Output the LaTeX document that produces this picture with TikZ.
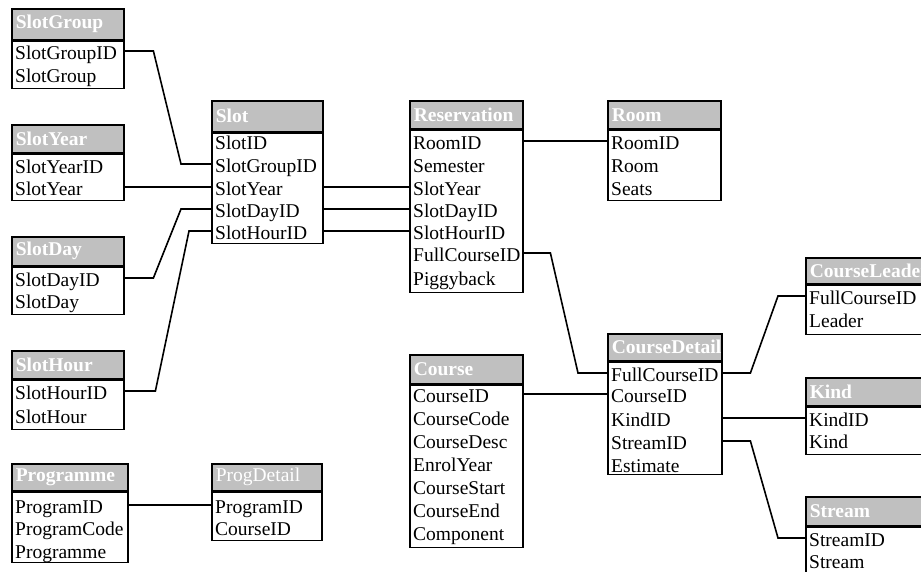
\documentclass[tikz,border=0pt]{standalone}
\usepackage{fontspec}
\setmainfont{Liberation Serif}
\usetikzlibrary{positioning, calc}
\definecolor{hdrgray}{RGB}{192,192,192}
\tikzset{
    tbl/.style={draw, line width=1.6pt},
    hdr/.style={tbl, fill=hdrgray, text=white, anchor=north west, inner xsep=4pt, inner ysep=0pt,
        align=left, text width=#1, font=\fontsize{19.5}{22}\selectfont\bfseries},
    tblbody/.style={tbl, minimum width=#1, inner sep=0pt},
    fld/.style={anchor=west, inner xsep=4pt, inner ysep=0pt, align=left, text width=#1,
        text height=18pt, text depth=1pt, font=\fontsize{19.5}{22}\selectfont},
    link/.style={line width=1.6pt},
}

\begin{document}
\begin{tikzpicture}[x=1pt, y=-1pt]
    \useasboundingbox (0,0) rectangle (921,572);

    % slot tables on the left
    \node[hdr=104pt, minimum height=31pt] (slotgroup) at (11,8) {SlotGroup};
    \node[tblbody=112pt, minimum height=47pt, below=0pt of slotgroup] (slotgroup-b) {};
    \node[fld=104pt] (sg-id) at (11,51) {SlotGroupID};
    \node[fld=104pt] (sg-name) at (11,74) {SlotGroup};

    \node[hdr=104pt, minimum height=28pt] (slotyear) at (11,124) {SlotYear};
    \node[tblbody=112pt, minimum height=46pt, below=0pt of slotyear] (slotyear-b) {};
    \node[fld=104pt] (sy-id) at (11,165) {SlotYearID};
    \node[fld=104pt] (sy-year) at (11,187) {SlotYear};

    \node[hdr=104pt, minimum height=29pt] (slotday) at (11,236) {SlotDay};
    \node[tblbody=112pt, minimum height=47pt, below=0pt of slotday] (slotday-b) {};
    \node[fld=104pt] (sd-id) at (11,278) {SlotDayID};
    \node[fld=104pt] (sd-day) at (11,300) {SlotDay};

    \node[hdr=104pt, minimum height=28pt] (slothour) at (11,350) {SlotHour};
    \node[tblbody=112pt, minimum height=49pt, below=0pt of slothour] (slothour-b) {};
    \node[fld=104pt] (sh-id) at (11,391) {SlotHourID};
    \node[fld=104pt] (sh-hour) at (11,415) {SlotHour};

    \node[hdr=108pt, minimum height=27pt] (programme) at (11,463) {Programme};
    \node[tblbody=116pt, minimum height=70pt, below=0pt of programme] (programme-b) {};
    \node[fld=108pt] (pg-id) at (11,505) {ProgramID};
    \node[fld=108pt] (pg-code) at (11,527) {ProgramCode};
    \node[fld=108pt] (pg-name) at (11,550) {Programme};

    \node[hdr=102pt, minimum height=27pt, font=\fontsize{19.5}{22}\selectfont] (progdetail) at (211,463) {ProgDetail};
    \node[tblbody=110pt, minimum height=48pt, below=0pt of progdetail] (progdetail-b) {};
    \node[fld=102pt] (pd-id) at (211,505) {ProgramID};
    \node[fld=102pt] (pd-course) at (211,527) {CourseID};

    % slot and reservation
    \node[hdr=103pt, minimum height=31pt] (slot) at (211,100) {Slot};
    \node[tblbody=111pt, minimum height=110pt, below=0pt of slot] (slot-b) {};
    \node[fld=103pt] (sl-id) at (211,141) {SlotID};
    \node[fld=103pt] (sl-grp) at (211,164) {SlotGroupID};
    \node[fld=103pt] (sl-year) at (211,187) {SlotYear};
    \node[fld=103pt] (sl-day) at (211,209) {SlotDayID};
    \node[fld=103pt] (sl-hour) at (211,231) {SlotHourID};

    \node[hdr=105pt, minimum height=28pt] (reservation) at (409,100) {Reservation};
    \node[tblbody=113pt, minimum height=162pt, below=0pt of reservation] (reservation-b) {};
    \node[fld=105pt] (rs-room) at (409,141) {RoomID};
    \node[fld=105pt] (rs-sem) at (409,164) {Semester};
    \node[fld=105pt] (rs-year) at (409,187) {SlotYear};
    \node[fld=105pt] (rs-day) at (409,209) {SlotDayID};
    \node[fld=105pt] (rs-hour) at (409,231) {SlotHourID};
    \node[fld=105pt] (rs-full) at (409,253) {FullCourseID};
    \node[fld=105pt] (rs-piggy) at (409,277) {Piggyback};

    \node[hdr=105pt, minimum height=28pt] (room) at (607,100) {Room};
    \node[tblbody=113pt, minimum height=70pt, below=0pt of room] (room-b) {};
    \node[fld=105pt] (rm-id) at (607,141) {RoomID};
    \node[fld=105pt] (rm-room) at (607,164) {Room};
    \node[fld=105pt] (rm-seats) at (607,187) {Seats};

    % courses
    \node[hdr=105pt, minimum height=29pt] (course) at (409,354) {Course};
    \node[tblbody=113pt, minimum height=162pt, below=0pt of course] (course-b) {};
    \node[fld=105pt] (co-id) at (409,394) {CourseID};
    \node[fld=105pt] (co-code) at (409,417) {CourseCode};
    \node[fld=105pt] (co-desc) at (409,440) {CourseDesc};
    \node[fld=105pt] (co-enrol) at (409,463) {EnrolYear};
    \node[fld=105pt] (co-start) at (409,486) {CourseStart};
    \node[fld=105pt] (co-end) at (409,509) {CourseEnd};
    \node[fld=105pt] (co-comp) at (409,532) {Component};

    \node[hdr=106pt, minimum height=27pt] (coursedetail) at (607,333) {CourseDetail};
    \node[tblbody=114pt, minimum height=112pt, below=0pt of coursedetail] (coursedetail-b) {};
    \node[fld=106pt] (cd-full) at (607,373) {FullCourseID};
    \node[fld=106pt] (cd-course) at (607,394) {CourseID};
    \node[fld=106pt] (cd-kind) at (607,418) {KindID};
    \node[fld=106pt] (cd-stream) at (607,441) {StreamID};
    \node[fld=106pt] (cd-est) at (607,464) {Estimate};

    \node[hdr=122pt, minimum height=26pt] (courseleader) at (805,257) {CourseLeader};
    \node[tblbody=130pt, minimum height=49pt, below=0pt of courseleader] (courseleader-b) {};
    \node[fld=122pt] (cl-full) at (805,296) {FullCourseID};
    \node[fld=122pt] (cl-leader) at (805,319) {Leader};

    \node[hdr=122pt, minimum height=28pt] (kind) at (805,377) {Kind};
    \node[tblbody=130pt, minimum height=47pt, below=0pt of kind] (kind-b) {};
    \node[fld=122pt] (kd-id) at (805,418) {KindID};
    \node[fld=122pt] (kd-kind) at (805,440) {Kind};

    \node[hdr=122pt, minimum height=29pt] (stream) at (805,496) {Stream};
    \node[tblbody=130pt, minimum height=46pt, below=0pt of stream] (stream-b) {};
    \node[fld=122pt] (st-id) at (805,538) {StreamID};
    \node[fld=122pt] (st-stream) at (805,560) {Stream};

    % relations
    \draw[link] (sg-id.east) -- ++(30,0) -- ([xshift=-30pt]sl-grp.west) -- (sl-grp.west);
    \draw[link] (sy-year.east) -- (sl-year.west);
    \draw[link] (sd-id.east) -- ++(30,0) -- ([xshift=-30pt]sl-day.west) -- (sl-day.west);
    \draw[link] (sh-id.east) -- ++(32,0) -- ([xshift=-22pt]sl-hour.west) -- (sl-hour.west);
    \draw[link] (sl-year.east) -- (rs-year.west);
    \draw[link] (sl-day.east) -- (rs-day.west);
    \draw[link] (sl-hour.east) -- (rs-hour.west);
    \draw[link] (rs-room.east) -- (rm-id.west);
    \draw[link] (rs-full.east) -- ++(28,0) -- ([xshift=-29pt]cd-full.west) -- (cd-full.west);
    \draw[link] (co-id.east) -- (cd-course.west);
    \draw[link] (cd-full.east) -- ++(29,0) -- ([xshift=-27pt]cl-full.west) -- (cl-full.west);
    \draw[link] (cd-kind.east) -- (kd-id.west);
    \draw[link] (cd-stream.east) -- ++(29,0) -- ([xshift=-27pt]st-id.west) -- (st-id.west);
    \draw[link] (pg-id.east) -- (pd-id.west);
\end{tikzpicture}
\end{document}
